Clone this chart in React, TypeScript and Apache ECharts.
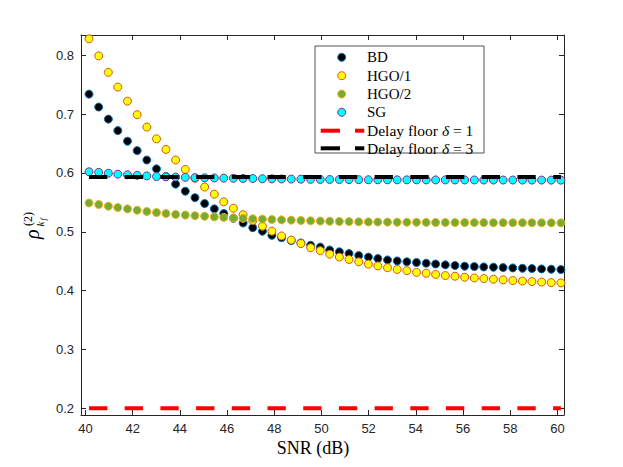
import React, { useEffect, useRef } from "react";
import * as echarts from "echarts";

const snr = [
  40.15, 40.56, 40.97, 41.37, 41.78, 42.19, 42.6, 43.01, 43.41, 43.82,
  44.23, 44.64, 45.05, 45.46, 45.86, 46.27, 46.68, 47.09, 47.5, 47.9,
  48.31, 48.72, 49.13, 49.54, 49.95, 50.35, 50.76, 51.17, 51.58, 51.99,
  52.39, 52.8, 53.21, 53.62, 54.03, 54.44, 54.84, 55.25, 55.66, 56.07,
  56.48, 56.88, 57.29, 57.7, 58.11, 58.52, 58.92, 59.33, 59.74, 60.15,
];

const bd = [
  0.734, 0.712, 0.6915, 0.672, 0.654, 0.638, 0.622, 0.607, 0.594, 0.581,
  0.569, 0.558, 0.548, 0.539, 0.531, 0.523, 0.515, 0.507, 0.501, 0.494,
  0.49, 0.485, 0.481, 0.477, 0.474, 0.469, 0.466, 0.463, 0.4596, 0.457,
  0.4546, 0.4522, 0.4505, 0.449, 0.4478, 0.4466, 0.4452, 0.4438, 0.4427, 0.4415,
  0.4409, 0.4403, 0.4398, 0.4392, 0.4386, 0.438, 0.4375, 0.4369, 0.4364, 0.4358,
];

const hgo1 = [
  0.828, 0.799, 0.771, 0.746, 0.722, 0.699, 0.678, 0.658, 0.64, 0.622,
  0.606, 0.591, 0.576, 0.564, 0.551, 0.54, 0.529, 0.519, 0.5095, 0.501,
  0.493, 0.486, 0.48, 0.473, 0.468, 0.462, 0.457, 0.453, 0.449, 0.445,
  0.442, 0.439, 0.436, 0.434, 0.431, 0.4295, 0.4275, 0.4256, 0.4245, 0.4228,
  0.4216, 0.4205, 0.4194, 0.4183, 0.4171, 0.4162, 0.4154, 0.4145, 0.4137, 0.4131,
];

const hgo2 = [
  0.549, 0.5464, 0.5435, 0.5413, 0.539, 0.5367, 0.5345, 0.5328, 0.531, 0.5295,
  0.5284, 0.5274, 0.5264, 0.5254, 0.5245, 0.5237, 0.5229, 0.5222, 0.5215, 0.5209,
  0.5203, 0.5198, 0.5192, 0.5187, 0.5183, 0.5179, 0.5176, 0.5173, 0.517, 0.5168,
  0.5166, 0.5164, 0.5163, 0.5162, 0.5161, 0.516, 0.5159, 0.5158, 0.5157, 0.5157,
  0.5156, 0.5156, 0.5155, 0.5155, 0.5154, 0.5154, 0.5153, 0.5153, 0.5152, 0.5152,
];

const sg = [
  0.602, 0.601, 0.5995, 0.598, 0.597, 0.596, 0.595, 0.594, 0.5935, 0.593,
  0.5925, 0.592, 0.5918, 0.5915, 0.5912, 0.591, 0.5907, 0.5905, 0.5902, 0.59,
  0.5898, 0.5896, 0.5894, 0.5892, 0.589, 0.5889, 0.5888, 0.5887, 0.5886, 0.5885,
  0.5884, 0.5884, 0.5883, 0.5883, 0.5883, 0.5882, 0.5882, 0.5882, 0.5881, 0.5881,
  0.5881, 0.588, 0.588, 0.588, 0.588, 0.5879, 0.5879, 0.5879, 0.5878, 0.5878,
];

const floorX = [40.15, 60.15];
const floor1 = [0.2, 0.2];
const floor3 = [0.593, 0.593];

const xTicks = [40, 42, 44, 46, 48, 50, 52, 54, 56, 58, 60];
const yTicks = [0.2, 0.3, 0.4, 0.5, 0.6, 0.7, 0.8];

const seriesNames = ["BD", "HGO/1", "HGO/2", "SG"];
const fills = ["#000000", "#FFFF00", "#77AC30", "#00FFFF"];
const edges = ["#0072BD", "#D95319", "#EDB120", "#7E2F8E"];

const AX = "#262626";
const SERIF = "'Liberation Serif', 'DejaVu Serif', serif";
const SANS = "'Liberation Sans', Arial, sans-serif";

export default function App() {
  const ref = useRef<HTMLDivElement>(null);

  useEffect(() => {
    if (!ref.current) return;
    const chart = echarts.init(ref.current, undefined, { renderer: "svg" });

    const values = [bd, hgo1, hgo2, sg];
    const scatter = values.map((arr, k) => ({
      type: "scatter",
      name: seriesNames[k],
      xAxisIndex: 0,
      yAxisIndex: 0,
      symbol: "circle",
      symbolSize: 8,
      itemStyle: { color: fills[k], borderColor: edges[k], borderWidth: 1, opacity: 1 },
      data: snr.map((x, i) => [x, arr[i]]),
      z: 2 + k,
    }));

    const dash = [18.3, 17.4];
    const floorSeries = [
      { name: "Delay floor δ = 1", data: floor1, color: "#FF0000" },
      { name: "Delay floor δ = 3", data: floor3, color: "#000000" },
    ].map((f, k) => ({
      type: "line",
      name: f.name,
      xAxisIndex: 0,
      yAxisIndex: 0,
      symbol: "none",
      data: floorX.map((x, i) => [x, f.data[i]]),
      lineStyle: { color: f.color, width: 4, type: dash, cap: "butt" },
      z: 10 + k,
    }));

    const baseX = {
      type: "value",
      min: 39.81,
      max: 60.28,
      splitLine: { show: false },
      axisLine: { show: true, onZero: false, lineStyle: { color: AX, width: 1 } },
      axisTick: { show: true, inside: true, length: 5, customValues: xTicks, lineStyle: { color: AX, width: 1 } },
    };
    const baseY = {
      type: "value",
      min: 0.1886,
      max: 0.8345,
      splitLine: { show: false },
      axisLine: { show: true, onZero: false, lineStyle: { color: AX, width: 1 } },
      axisTick: { show: true, inside: true, length: 5, customValues: yTicks, lineStyle: { color: AX, width: 1 } },
    };

    const legendX = 315;
    const legendY = 46;
    const rowY = [57.3, 75.7, 94, 112.3, 130.7, 148.3];
    const legendLabels = ["BD", "HGO/1", "HGO/2", "SG"];
    const legendChildren: any[] = [
      {
        type: "rect",
        shape: { x: legendX, y: legendY, width: 169, height: 107 },
        style: { fill: "#ffffff", stroke: AX, lineWidth: 0.8 },
      },
    ];
    legendLabels.forEach((lab, k) => {
      legendChildren.push({
        type: "circle",
        shape: { cx: 341.7, cy: rowY[k], r: 4 },
        style: { fill: fills[k], stroke: edges[k], lineWidth: 1 },
      });
      legendChildren.push({
        type: "text",
        style: {
          text: lab,
          x: 367,
          y: rowY[k],
          fontSize: 15,
          fontFamily: SERIF,
          fill: "#000",
          verticalAlign: "middle",
          align: "left",
        },
      });
    });
    const floorColors = ["#FF0000", "#000000"];
    ["1", "3"].forEach((d, k) => {
      const y = rowY[4 + k];
      legendChildren.push({
        type: "line",
        shape: { x1: 320.7, y1: y, x2: 340, y2: y },
        style: { stroke: floorColors[k], lineWidth: 4 },
      });
      legendChildren.push({
        type: "line",
        shape: { x1: 355, y1: y, x2: 364.3, y2: y },
        style: { stroke: floorColors[k], lineWidth: 4 },
      });
      legendChildren.push({
        type: "text",
        style: {
          text: "Delay floor {i|δ} = " + d,
          x: 367,
          y,
          fontSize: 15.5,
          fontFamily: SERIF,
          fill: "#000",
          verticalAlign: "middle",
          align: "left",
          rich: { i: { fontStyle: "italic", fontSize: 15.5, fontFamily: SERIF, fill: "#000" } },
        },
      });
    });

    const option: any = {
      animation: false,
      backgroundColor: "#ffffff",
      grid: { left: 81, top: 35, right: 59, bottom: 52, containLabel: false },
      xAxis: [
        {
          ...baseX,
          position: "bottom",
          axisLabel: {
            show: true,
            customValues: xTicks,
            fontSize: 13,
            fontFamily: SANS,
            color: AX,
            margin: 7,
          },
        },
        { ...baseX, position: "top", axisLabel: { show: false } },
      ],
      yAxis: [
        {
          ...baseY,
          position: "left",
          axisLabel: {
            show: true,
            customValues: yTicks,
            fontSize: 13,
            fontFamily: SANS,
            color: AX,
            margin: 7,
          },
        },
        { ...baseY, position: "right", axisLabel: { show: false } },
      ],
      series: [...scatter, ...floorSeries],
      graphic: [
        { type: "group", z: 100, children: legendChildren },
        {
          type: "text",
          z: 100,
          style: {
            text: "SNR (dB)",
            x: 313,
            y: 448,
            fontSize: 18,
            fontFamily: SERIF,
            fill: "#000",
            align: "center",
            verticalAlign: "middle",
          },
        },
        {
          type: "group",
          x: 38,
          y: 239,
          rotation: Math.PI / 2,
          z: 100,
          children: [
            {
              type: "text",
              style: { text: "ρ", x: 0, y: 4, fontSize: 20, fontStyle: "italic", fontFamily: SERIF, fill: "#000", verticalAlign: "bottom", align: "left" },
            },
            {
              type: "text",
              style: { text: "(2)", x: 13, y: -4, fontSize: 12, fontFamily: SERIF, fill: "#000", verticalAlign: "bottom", align: "left" },
            },
            {
              type: "text",
              style: { text: "k", x: 12.5, y: 7, fontSize: 11, fontStyle: "italic", fontFamily: SERIF, fill: "#000", verticalAlign: "bottom", align: "left" },
            },
            {
              type: "text",
              style: { text: "f", x: 18.5, y: 9, fontSize: 8, fontStyle: "italic", fontFamily: SERIF, fill: "#000", verticalAlign: "bottom", align: "left" },
            },
          ],
        },
      ],
    };

    chart.setOption(option);
    return () => chart.dispose();
  }, []);

  return (
    <div
      ref={ref}
      style={{ position: "fixed", left: 0, top: 0, width: 623, height: 467, background: "#fff" }}
    />
  );
}
